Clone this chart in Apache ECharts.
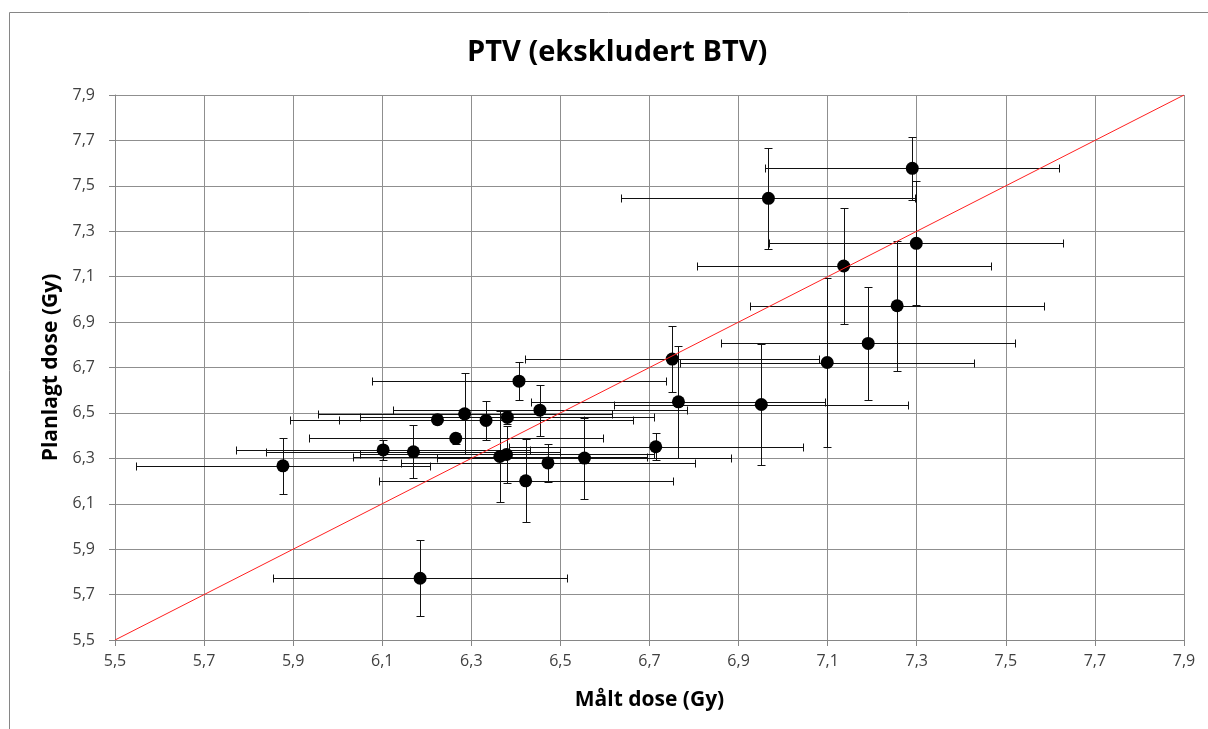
<!DOCTYPE html>
<html>
<head>
<meta charset="utf-8">
<title>PTV (ekskludert BTV)</title>
<script src="https://cdn.jsdelivr.net/npm/echarts@6/dist/echarts.min.js"></script>
<style>
html, body { margin: 0; padding: 0; background: #fff; }
#chart { width: 1208px; height: 729px; }
</style>
</head>
<body>
<div id="chart"></div>
<script>
// målt dose (x), planlagt dose (y), usikkerhet i begge retninger
var maltDose = [5.877, 6.185, 6.102, 6.170, 6.224, 6.285, 6.333, 6.265, 6.364, 6.379,
                6.381, 6.422, 6.472, 6.554, 6.714, 6.407, 6.454, 6.751, 6.765, 6.951,
                7.099, 7.191, 7.256, 7.136, 7.299, 6.967, 7.290];
var planlagtDose = [6.267, 5.772, 6.337, 6.329, 6.470, 6.496, 6.467, 6.388, 6.308, 6.317,
                    6.480, 6.201, 6.280, 6.301, 6.351, 6.640, 6.512, 6.737, 6.549, 6.537,
                    6.722, 6.806, 6.972, 7.147, 7.247, 7.445, 7.577];
var xFeil = [0.33, 0.33, 0.33, 0.33, 0.33, 0.33, 0.33, 0.33, 0.33, 0.33,
             0.33, 0.33, 0.33, 0.33, 0.33, 0.33, 0.33, 0.33, 0.33, 0.33,
             0.33, 0.33, 0.33, 0.33, 0.33, 0.33, 0.33];
var yFeil = [0.122, 0.167, 0.044, 0.116, 0.010, 0.178, 0.085, 0.025, 0.200, 0.125,
             0.030, 0.182, 0.085, 0.178, 0.060, 0.085, 0.112, 0.145, 0.247, 0.268,
             0.372, 0.249, 0.286, 0.257, 0.273, 0.223, 0.140];
var linje = [[5.5, 5.5], [7.9, 7.9]];

var punkter = [];
var feil = [];
for (var i = 0; i < maltDose.length; i++) {
    punkter.push([maltDose[i], planlagtDose[i]]);
    feil.push([maltDose[i], planlagtDose[i], xFeil[i], yFeil[i]]);
}

function komma(v) {
    return v.toFixed(1).replace('.', ',');
}

function crisp(v) {
    return Math.round(v) + 0.5;
}

// feilstolper i x og y, tegnet som egne linjer
function tegnFeil(params, api) {
    var x = api.value(0), y = api.value(1), ex = api.value(2), ey = api.value(3);
    var l = api.coord([x - ex, y]);
    var r = api.coord([x + ex, y]);
    var t = api.coord([x, y + ey]);
    var b = api.coord([x, y - ey]);
    var cap = 4;
    var st = { stroke: '#111', lineWidth: 1 };
    var yy = crisp(l[1]), xx = crisp(t[0]);
    function ln(x1, y1, x2, y2) {
        return { type: 'line', shape: { x1: x1, y1: y1, x2: x2, y2: y2 }, style: st };
    }
    return {
        type: 'group',
        children: [
            ln(crisp(l[0]), yy, crisp(r[0]), yy),
            ln(crisp(l[0]), yy - cap, crisp(l[0]), yy + cap),
            ln(crisp(r[0]), yy - cap, crisp(r[0]), yy + cap),
            ln(xx, crisp(t[1]), xx, crisp(b[1])),
            ln(xx - cap, crisp(t[1]), xx + cap, crisp(t[1])),
            ln(xx - cap, crisp(b[1]), xx + cap, crisp(b[1]))
        ]
    };
}

var chart = echarts.init(document.getElementById('chart'));
var font = 'Open Sans, Liberation Sans, sans-serif';

chart.setOption({
    animation: false,
    backgroundColor: '#fff',
    title: {
        text: 'PTV (ekskludert BTV)',
        left: 462,
        top: 33,
        textStyle: { fontFamily: font, fontSize: 29, fontWeight: 'bold', color: '#000' }
    },
    grid: { left: 115, right: 24, top: 95, bottom: 89 },
    xAxis: {
        type: 'value',
        min: 5.5,
        max: 7.9,
        interval: 0.2,
        name: 'Målt dose (Gy)',
        nameLocation: 'middle',
        nameGap: 50,
        nameTextStyle: { fontFamily: font, fontSize: 21, fontWeight: 'bold', color: '#000' },
        axisLine: { show: true, lineStyle: { color: '#868686', width: 1 } },
        axisTick: { show: true, length: 6, inside: false, lineStyle: { color: '#868686' } },
        axisLabel: { formatter: komma, fontFamily: font, fontSize: 16, color: '#404040', margin: 13 },
        splitLine: { show: true, lineStyle: { color: '#8f8f8f', width: 1 } }
    },
    yAxis: {
        type: 'value',
        min: 5.5,
        max: 7.9,
        interval: 0.2,
        name: 'Planlagt dose (Gy)',
        nameLocation: 'middle',
        nameGap: 52,
        nameTextStyle: { fontFamily: font, fontSize: 21, fontWeight: 'bold', color: '#000' },
        axisLine: { show: true, lineStyle: { color: '#868686', width: 1 } },
        axisTick: { show: true, length: 6, inside: false, lineStyle: { color: '#868686' } },
        axisLabel: { formatter: komma, fontFamily: font, fontSize: 16, color: '#404040', margin: 20 },
        splitLine: { show: true, lineStyle: { color: '#8f8f8f', width: 1 } }
    },
    graphic: [
        { type: 'line', shape: { x1: 9.5, y1: 12.5, x2: 1208, y2: 12.5 }, style: { stroke: '#868686', lineWidth: 1 } },
        { type: 'line', shape: { x1: 9.5, y1: 12.5, x2: 9.5, y2: 729 }, style: { stroke: '#868686', lineWidth: 1 } }
    ],
    series: [
        {
            type: 'custom',
            renderItem: tegnFeil,
            data: feil,
            encode: { x: 0, y: 1 },
            z: 2,
            silent: true
        },
        {
            type: 'scatter',
            data: punkter,
            symbol: 'circle',
            symbolSize: 13,
            itemStyle: { color: '#000', opacity: 1 },
            z: 3
        },
        {
            type: 'line',
            data: linje,
            symbol: 'none',
            lineStyle: { color: '#ff2020', width: 1 },
            z: 4,
            silent: true
        }
    ]
});
</script>
</body>
</html>
